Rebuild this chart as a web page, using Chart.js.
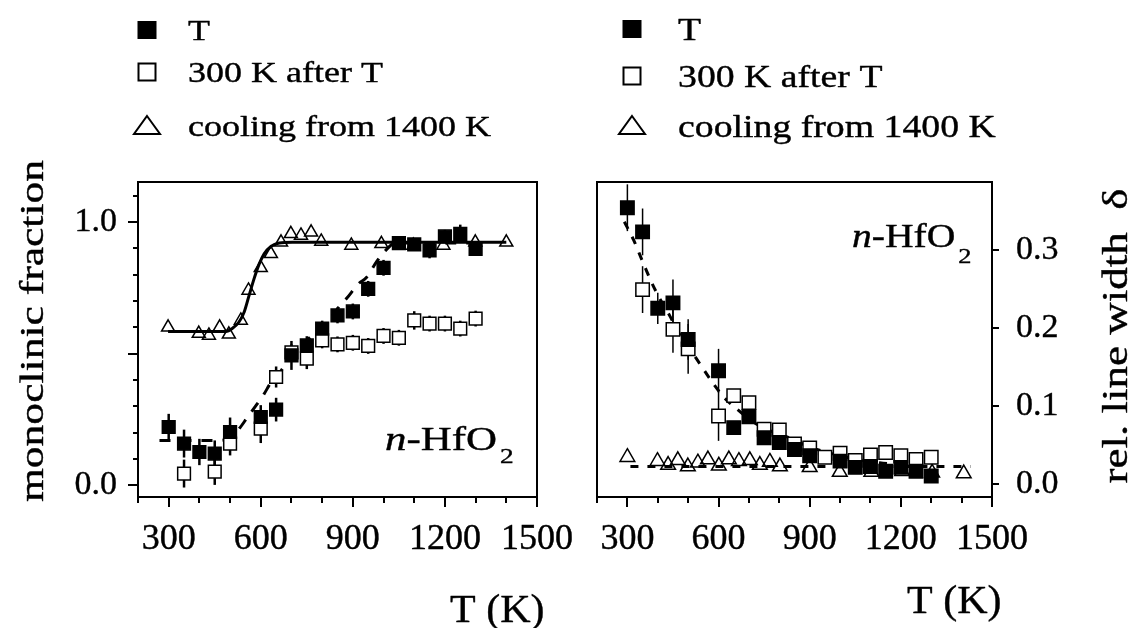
<!DOCTYPE html>
<html>
<head>
<meta charset="utf-8">
<title>n-HfO2 monoclinic fraction and line width</title>
<script src="https://cdn.jsdelivr.net/npm/chart.js@4.4.0/dist/chart.umd.min.js"></script>
<style>
  body { margin: 0; background: #fff; }
  #wrap { position: relative; width: 1134px; height: 628px; overflow: hidden; }
  canvas { position: absolute; top: 0; }
  #left { left: 0; }
  #right { left: 567px; }
</style>
</head>
<body>
<div id="wrap">
  <canvas id="left" width="600" height="628"></canvas>
  <canvas id="right" width="567" height="628"></canvas>
</div>
<script>
// ---- shared x axis: temperature (K)
const tempTicks = [200, 300, 400, 500, 600, 700, 800, 900, 1000, 1100, 1200, 1300, 1400, 1500];
const tempLabels = [300, 600, 900, 1200, 1500];
const legendLabels = ["T", "300 K after T", "cooling from 1400 K"];

// ---- left panel: monoclinic fraction
const fracTicks = [0, 0.1, 0.2, 0.3, 0.4, 0.5, 0.6, 0.7, 0.8, 0.9, 1.0, 1.1];
const fracLabels = [0, 0.5, 1.0];

const fracT_temp = [300, 350, 400, 450, 500, 600, 650, 700, 750, 800, 850, 900, 950, 1000, 1050, 1100, 1150, 1200, 1250, 1300];
const fracT = [0.221, 0.158, 0.126, 0.120, 0.202, 0.259, 0.287, 0.493, 0.531, 0.595, 0.645, 0.660, 0.746, 0.826, 0.920, 0.915, 0.892, 0.945, 0.955, 0.898];
const fracT_err = [0.05, 0.053, 0.05, 0.05, 0.055, 0.045, 0.045, 0.055, 0.035, 0.03, 0.03, 0.03, 0.03, 0.03, 0.025, 0.02, 0.03, 0.025, 0.035, 0.025];

const frac300_temp = [350, 450, 500, 600, 650, 700, 750, 800, 850, 900, 950, 1000, 1050, 1100, 1150, 1200, 1250, 1300];
const frac300 = [0.044, 0.051, 0.158, 0.215, 0.411, 0.505, 0.481, 0.550, 0.535, 0.541, 0.529, 0.567, 0.560, 0.626, 0.614, 0.614, 0.595, 0.633];
const frac300_err = [0.053, 0.05, 0.045, 0.055, 0.04, 0.03, 0.04, 0.03, 0.03, 0.03, 0.03, 0.03, 0.03, 0.035, 0.03, 0.03, 0.03, 0.03];

const fracCool_temp = [298, 398, 431, 466, 496, 535, 560, 600, 633, 666, 698, 731, 764, 797, 895, 993, 1097, 1195, 1299, 1400];
const fracCool = [0.600, 0.576, 0.569, 0.600, 0.573, 0.626, 0.740, 0.826, 0.879, 0.923, 0.955, 0.949, 0.961, 0.926, 0.911, 0.917, 0.911, 0.911, 0.923, 0.923];

// fit curves
const fracFitCool_temp = [298, 486, 507, 529, 546, 562, 578, 595, 611, 633, 660, 703, 1400];
const fracFitCool = [0.584, 0.584, 0.595, 0.620, 0.658, 0.721, 0.784, 0.841, 0.879, 0.907, 0.920, 0.923, 0.923];
const fracFitT_temp = [270, 330, 400, 460, 500, 530, 556, 583, 610, 633, 660, 698, 750, 800, 830, 860, 880, 918, 945, 978, 1005, 1040, 1300];
const fracFitT = [0.17, 0.17, 0.17, 0.17, 0.18, 0.215, 0.257, 0.30, 0.345, 0.39, 0.425, 0.49, 0.55, 0.605, 0.64, 0.685, 0.71, 0.765, 0.79, 0.85, 0.89, 0.92, 0.92];

// ---- right panel: relative line width
const widthTicks = [0, 0.1, 0.2, 0.3];

const widthT_temp = [300, 350, 400, 450, 500, 600, 650, 700, 750, 800, 850, 900, 1000, 1050, 1100, 1150, 1200, 1250, 1300];
const widthT = [0.354, 0.323, 0.225, 0.232, 0.185, 0.145, 0.072, 0.086, 0.059, 0.053, 0.044, 0.036, 0.029, 0.021, 0.022, 0.016, 0.021, 0.016, 0.010];
const widthT_err = [0.030, 0.030, 0.020, 0.030, 0.026, 0.028, 0.006, 0.006, 0.006, 0.005, 0.005, 0.005, 0.005, 0.004, 0.004, 0.004, 0.004, 0.004, 0.004];

const width300_temp = [350, 450, 500, 600, 650, 700, 750, 800, 850, 900, 950, 1000, 1050, 1100, 1150, 1200, 1250, 1300];
const width300 = [0.249, 0.198, 0.173, 0.087, 0.113, 0.104, 0.070, 0.069, 0.051, 0.046, 0.034, 0.039, 0.030, 0.037, 0.040, 0.036, 0.031, 0.034];
const width300_err = [0.030, 0.030, 0.032, 0.032, 0.006, 0.006, 0.006, 0.006, 0.005, 0.005, 0.005, 0.005, 0.005, 0.005, 0.005, 0.005, 0.005, 0.005];

const widthCool_temp = [300, 399, 434, 466, 499, 532, 565, 601, 634, 667, 703, 736, 769, 802, 900, 999, 1103, 1204, 1303, 1407];
const widthCool = [0.034, 0.029, 0.024, 0.030, 0.022, 0.027, 0.031, 0.023, 0.031, 0.029, 0.030, 0.024, 0.028, 0.022, 0.021, 0.015, 0.015, 0.016, 0.014, 0.013];

const widthFitT_temp = [290, 320, 350, 380, 410, 440, 470, 500, 540, 580, 620, 660, 700, 750, 800, 850, 900, 950, 1000, 1060, 1130, 1200];
const widthFitT = [0.336, 0.313, 0.285, 0.258, 0.235, 0.215, 0.193, 0.176, 0.153, 0.130, 0.110, 0.096, 0.083, 0.071, 0.064, 0.056, 0.047, 0.041, 0.036, 0.031, 0.027, 0.024];
const widthFitCool_temp = [310, 1430];
const widthFitCool = [0.022, 0.022];

const SERIF = "'Liberation Serif', 'Times New Roman', serif";
const STROKE = 0.4; // slight extra weight, the scanned lettering is heavier than the font

const pts = (xs, ys) => xs.map((x, i) => ({ x: x, y: ys[i] }));
const near = (a, b) => Math.abs(a - b) < 1e-6;

// vertical error bars, drawn under the markers
const errorBars = {
  id: "errorBars",
  beforeDatasetsDraw(chart) {
    const { ctx, chartArea: a } = chart;
    const ys = chart.scales.y;
    ctx.save();
    ctx.beginPath();
    ctx.rect(a.left, a.top, a.right - a.left, a.bottom - a.top);
    ctx.clip();
    ctx.strokeStyle = "#000";
    chart.data.datasets.forEach((ds, i) => {
      if (!ds.errors) return;
      ctx.lineWidth = ds.errorWidth;
      chart.getDatasetMeta(i).data.forEach((pt, j) => {
        const v = ds.data[j].y;
        const e = ds.errors[j];
        ctx.beginPath();
        ctx.moveTo(pt.x, ys.getPixelForValue(v - e));
        ctx.lineTo(pt.x, ys.getPixelForValue(v + e));
        ctx.stroke();
      });
    });
    ctx.restore();
  },
};

// stretched text helper (the figure's lettering is wider than the font)
function drawText(ctx, text, x, y, size, sx, opts = {}) {
  ctx.save();
  ctx.translate(x, y);
  if (opts.rotate) ctx.rotate(opts.rotate);
  ctx.scale(sx, 1);
  ctx.font = (opts.italic ? "italic " : "") + size + "px " + SERIF;
  ctx.textAlign = opts.align || "left";
  ctx.textBaseline = "alphabetic";
  ctx.fillStyle = "#000";
  ctx.strokeStyle = "#000";
  ctx.lineWidth = STROKE;
  ctx.lineJoin = "round";
  ctx.strokeText(text, 0, 0);
  ctx.fillText(text, 0, 0);
  const w = ctx.measureText(text).width * sx;
  ctx.restore();
  return w;
}

function drawMarker(ctx, kind, x, y) {
  ctx.save();
  ctx.lineWidth = 2;
  ctx.strokeStyle = "#000";
  ctx.fillStyle = "#000";
  if (kind === "filled") {
    ctx.fillRect(x - 9.5, y - 9, 19, 18);
  } else if (kind === "open") {
    ctx.strokeRect(x - 8.5, y - 8.5, 17, 17);
  } else {
    ctx.beginPath();
    ctx.moveTo(x, y - 10);
    ctx.lineTo(x + 13, y + 8);
    ctx.lineTo(x - 13, y + 8);
    ctx.closePath();
    ctx.stroke();
  }
  ctx.restore();
}

// frame, tick marks, legend and labels
const decor = {
  id: "decor",
  afterDraw(chart, args, o) {
    const { ctx, chartArea: a, scales } = chart;
    ctx.save();
    ctx.strokeStyle = "#000";
    ctx.lineWidth = 2;
    ctx.strokeRect(a.left, a.top, a.right - a.left, a.bottom - a.top);

    ctx.beginPath();
    tempTicks.forEach((v) => {
      const px = Math.round(scales.x.getPixelForValue(v));
      const len = tempLabels.includes(v) ? 10 : 6;
      ctx.moveTo(px, a.bottom);
      ctx.lineTo(px, a.bottom + len);
    });
    o.yTicks.forEach((v) => {
      const py = Math.round(scales.y.getPixelForValue(v));
      const len = o.yMajor.some((m) => near(m, v)) ? o.yMajorLen : o.yMinorLen;
      if (o.ySide === "left") {
        ctx.moveTo(a.left, py);
        ctx.lineTo(a.left - len, py);
      } else {
        ctx.moveTo(a.right, py);
        ctx.lineTo(a.right + len, py);
      }
    });
    ctx.stroke();
    ctx.restore();

    // legend
    const lg = o.legend;
    ["filled", "open", "triangle"].forEach((kind, i) => {
      drawMarker(ctx, kind, lg.markerX, lg.rows[i]);
      drawText(ctx, legendLabels[i], lg.textX, lg.rows[i] + lg.size * 0.33, lg.size, lg.sx);
    });

    // n-HfO2 tag
    const t = o.tag;
    let w = drawText(ctx, "n", t.x, t.y, t.size, t.sx, { italic: true });
    w += drawText(ctx, "-HfO", t.x + w, t.y, t.size, t.sx);
    drawText(ctx, "2", t.x + w + 3, t.y + t.subDrop, t.sub, t.sx);

    // axis titles
    drawText(ctx, o.yTitle.text, o.yTitle.x, o.yTitle.y, o.yTitle.size, o.yTitle.sx, { rotate: -Math.PI / 2, align: "center" });
    drawText(ctx, "T (K)", o.xTitle.x, o.xTitle.y, 40, 1.05);
  },
};

function xScale() {
  return {
    type: "linear",
    min: 200,
    max: 1500,
    afterBuildTicks: (s) => { s.ticks = tempTicks.map((v) => ({ value: v })); },
    afterFit: (s) => { s.height = 131; s.paddingLeft = 0; s.paddingRight = 0; },
    grid: { display: false, drawTicks: false },
    border: { display: false },
    ticks: {
      autoSkip: false,
      maxRotation: 0,
      minRotation: 0,
      padding: 21,
      color: "#000",
      textStrokeColor: "#000",
      textStrokeWidth: STROKE,
      font: { family: SERIF, size: 36 },
      callback: (v) => (tempLabels.includes(v) ? String(v) : ""),
    },
  };
}

function markerSet(label, data, style, r, extra) {
  return Object.assign({
    label: label,
    data: data,
    pointStyle: style === "triangle" ? "triangle" : "rect",
    pointRadius: r,
    pointHoverRadius: r,
    pointBorderWidth: 1.5,
    borderColor: "#000",
    pointBorderColor: "#000",
    pointBackgroundColor: style === "filled" ? "#000" : style === "open" ? "#fff" : "rgba(0,0,0,0)",
    showLine: false,
  }, extra);
}

function lineSet(data, dash) {
  return {
    data: data,
    showLine: true,
    pointRadius: 0,
    borderColor: "#000",
    borderWidth: 3,
    borderDash: dash,
    cubicInterpolationMode: "monotone",
    order: 10,
  };
}

const baseOptions = {
  responsive: false,
  animation: false,
  devicePixelRatio: 1,
  events: [],
};

// Left panel
new Chart(document.getElementById("left"), {
  type: "scatter",
  data: {
    datasets: [
      markerSet(legendLabels[0], pts(fracT_temp, fracT), "filled", 9, { errors: fracT_err, errorWidth: 2.5, order: 1 }),
      markerSet(legendLabels[1], pts(frac300_temp, frac300), "open", 9, { errors: frac300_err, errorWidth: 2.5, order: 2 }),
      markerSet(legendLabels[2], pts(fracCool_temp, fracCool), "triangle", 7.5, { order: 3 }),
      lineSet(pts(fracFitCool_temp, fracFitCool), []),
      lineSet(pts(fracFitT_temp, fracFitT), [11, 10]),
    ],
  },
  options: Object.assign({}, baseOptions, {
    layout: { padding: { top: 182, right: 63, left: 0, bottom: 0 } },
    scales: {
      x: xScale(),
      y: {
        type: "linear",
        min: -0.045,
        max: 1.152,
        afterBuildTicks: (s) => { s.ticks = fracTicks.map((v) => ({ value: v })); },
        afterFit: (s) => { s.width = 138; s.paddingTop = 0; s.paddingBottom = 0; },
        grid: { display: false, drawTicks: false },
        border: { display: false },
        ticks: {
          padding: 21,
          color: "#000",
          textStrokeColor: "#000",
          textStrokeWidth: STROKE,
          font: { family: SERIF, size: 34 },
          callback: (v) => (fracLabels.some((m) => near(m, v)) ? v.toFixed(1) : ""),
        },
      },
    },
    plugins: {
      legend: { display: false },
      tooltip: { enabled: false },
      decor: {
        ySide: "left",
        yTicks: fracTicks,
        yMajor: fracLabels,
        yMajorLen: 10,
        yMinorLen: 5,
        legend: { markerX: 147, textX: 188, rows: [30, 72, 126], size: 30, sx: 1.2 },
        tag: { x: 385, y: 450, size: 33, sub: 21, subDrop: 13, sx: 1.3 },
        yTitle: { text: "monoclinic fraction", x: 43, y: 331, size: 34, sx: 1.28 },
        xTitle: { x: 450, y: 622 },
      },
    },
  }),
  plugins: [errorBars, decor],
});

// Right panel
new Chart(document.getElementById("right"), {
  type: "scatter",
  data: {
    datasets: [
      markerSet(legendLabels[0], pts(widthT_temp, widthT), "filled", 9.5, { errors: widthT_err, errorWidth: 1.5, order: 1 }),
      markerSet(legendLabels[1], pts(width300_temp, width300), "open", 9.5, { errors: width300_err, errorWidth: 1.5, order: 2 }),
      markerSet(legendLabels[2], pts(widthCool_temp, widthCool), "triangle", 8.5, { order: 3 }),
      lineSet(pts(widthFitT_temp, widthFitT), [8, 9]),
      lineSet(pts(widthFitCool_temp, widthFitCool), [8, 9]),
    ],
  },
  options: Object.assign({}, baseOptions, {
    layout: { padding: { top: 182, right: 0, left: 30, bottom: 0 } },
    scales: {
      x: xScale(),
      y: {
        type: "linear",
        position: "right",
        min: -0.017,
        max: 0.387,
        afterBuildTicks: (s) => { s.ticks = widthTicks.map((v) => ({ value: v })); },
        afterFit: (s) => { s.width = 142; s.paddingTop = 0; s.paddingBottom = 0; },
        grid: { display: false, drawTicks: false },
        border: { display: false },
        ticks: {
          padding: 24,
          color: "#000",
          textStrokeColor: "#000",
          textStrokeWidth: STROKE,
          font: { family: SERIF, size: 34 },
          callback: (v) => v.toFixed(1),
        },
      },
    },
    plugins: {
      legend: { display: false },
      tooltip: { enabled: false },
      decor: {
        ySide: "right",
        yTicks: widthTicks,
        yMajor: widthTicks,
        yMajorLen: 7,
        yMinorLen: 7,
        legend: { markerX: 65, textX: 111, rows: [29, 76, 126], size: 32, sx: 1.18 },
        tag: { x: 285, y: 247, size: 33, sub: 22, subDrop: 16, sx: 1.2 },
        yTitle: { text: "rel. line width  \u03b4", x: 560, y: 336, size: 36, sx: 1.25 },
        xTitle: { x: 340, y: 613 },
      },
    },
  }),
  plugins: [errorBars, decor],
});
</script>
</body>
</html>
